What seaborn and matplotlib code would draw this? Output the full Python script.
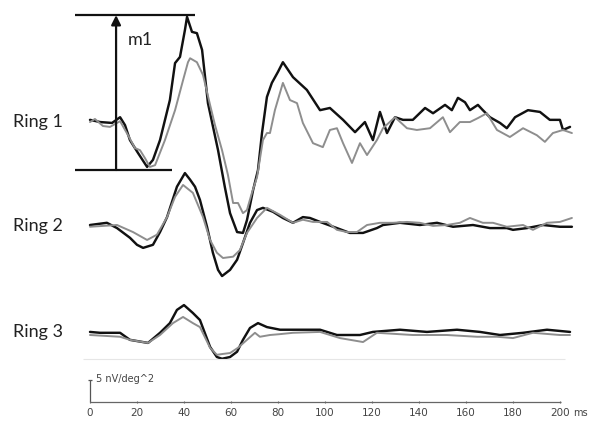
"""
mfERG ring traces (Ring 1-3), black vs gray response, with m1 amplitude marker.
"""
import numpy as np
import pandas as pd
import matplotlib
matplotlib.use("Agg")
import matplotlib.pyplot as plt
import seaborn as sns

BLACK = "#111111"
GRAY  = "#8e8e8e"
TEXT  = "#222222"

# ---- data: time (ms) / amplitude (nV/deg^2) ----
r1_black_t = [0, 4.3, 9.4, 12.8, 14.9, 17, 20.4, 24.3, 26.8, 29.8, 34, 36.2, 38.3, 40.4,
              41.3, 43.4, 45.5, 47.7, 50.2, 54.5, 57.4, 59.6, 62.6, 65.1, 66.8, 69.4,
              71.5, 73.2, 75.3, 77.4, 80, 82.1, 86.4, 92.3, 97.9, 102.1, 107.7, 112.8,
              117, 120.4, 123.4, 126.4, 129.8, 133.2, 137.4, 142.6, 146, 151.1, 154,
              156.6, 159.6, 161.7, 165.1, 167.2, 170.2, 174.5, 177.4, 180.9, 186.4,
              191.5, 195.7, 200, 201.3, 204.3]
r1_black_a = [0.5, 0, -0.2, 1.1, -0.7, -4.1, -7.0, -10.2, -8.6, -4.1, 5.0, 13.4, 14.8, 20.9,
              23.9, 20.5, 20.2, 16.4, 4.3, -6.4, -14.8, -20.7, -25.0, -25.2, -22.3, -15.5,
              -10.9, -2.5, 5.7, 8.9, 11.4, 13.6, 10.2, 7.3, 2.7, 3.2, 0.5, -2.3,
              0, -4.1, 2.3, -2.5, 1.1, 0.5, 0.5, 3.2, 2.0, 3.9, 2.7,
              5.5, 4.5, 2.7, 3.9, 2.7, 1.1, -0.2, -1.4, 1.1, 2.7,
              2.3, 0.5, 0.5, -1.8, -1.1]

r1_gray_t = [0, 2.1, 5.5, 8.5, 12.8, 16.2, 19.1, 21.3, 23.4, 25.5, 27.7, 31.9, 36.2, 39.6,
             41.7, 42.6, 45.5, 48.1, 51.1, 53.2, 56.2, 58.7, 60.9, 63, 65.1, 66.8, 68.9,
             71.1, 73.6, 75.3, 76.6, 78.7, 82.1, 85.1, 88.1, 90.6, 94.9, 99.1, 102.1,
             105.1, 107.7, 111.5, 114.9, 117.9, 122.1, 124.7, 129.8, 134.9, 139.1, 144.7,
             150.2, 153.2, 157.4, 161.7, 165.1, 168.9, 173.2, 178.7, 184.3, 190.2, 193.6,
             197, 201.3, 205.1]
r1_gray_a = [0, 0.7, -0.9, -1.1, 0.2, -3.0, -5.9, -6.4, -8.2, -10.2, -9.8, -4.1, 2.7, 9.5,
             13.6, 14.5, 13.6, 10.7, 3.9, -0.7, -6.4, -12.0, -18.4, -18.4, -20.7, -20.0, -16.1,
             -12.5, -4.1, -2.5, -2.5, 2.7, 8.9, 5.0, 4.3, -0.2, -4.8, -5.7, -1.8,
             -1.4, -4.8, -9.3, -4.8, -7.5, -4.1, -1.4, 1.1, -1.4, -1.8, -1.4,
             1.1, -2.3, 0, 0, 0.9, 2.0, -1.8, -3.4, -1.4, -3.0, -4.5,
             -2.5, -1.8, -2.5]

r2_black_t = [0, 4.3, 7.2, 11.5, 17, 20, 22.6, 26.8, 29.8, 32.8, 37, 40.4, 42.6, 44.7, 46.8,
              49.8, 52.3, 54.5, 56.2, 59.6, 62.6, 65.1, 68.1, 71.1, 73.6, 77.9, 82.1, 86.4,
              90.6, 93.6, 97.9, 105.1, 110.6, 116.2, 122.1, 124.7, 131.9, 140.4, 147.7,
              154.5, 163, 170.2, 177.4, 180, 186, 192.8, 200, 205.1]
r2_black_a = [0.2, 0.5, 0.7, -0.5, -2.7, -4.3, -5.0, -4.3, -1.4, 2.0, 8.9, 12.0, 10.5, 8.9, 5.9,
              -0.2, -6.1, -10.0, -11.4, -10.0, -7.7, -3.9, 0.7, 3.6, 4.1, 3.2, 1.8, 0.7,
              2.0, 1.8, 0.9, -0.5, -1.6, -1.6, -0.5, 0.2, 0.7, 0.2, 0.7,
              -0.2, 0.2, -0.5, -0.5, -0.9, -0.5, 0.2, -0.2, -0.2]

r2_gray_t = [0, 11.5, 18.3, 24.3, 28.5, 32.8, 36.2, 39.6, 43.8, 48.1, 51.1, 54, 56.6, 60.9,
             63.8, 66.8, 71.1, 75.3, 80.9, 86.4, 90.6, 94.9, 100.9, 105.1, 109.4, 113.6,
             117.9, 123.4, 128.9, 134.9, 140.4, 146, 151.9, 157.4, 161.7, 167.2, 171.5,
             177.4, 184.3, 188.5, 194.5, 200, 205.1]
r2_gray_a = [-0.2, 0.2, -1.4, -3.2, -2.0, 2.0, 6.6, 9.3, 7.5, 2.0, -3.2, -6.1, -7.3, -7.0,
             -5.5, -1.6, 1.8, 4.1, 2.5, 0.7, 1.4, 0.9, 0.9, -0.9, -1.4, -1.4,
             0.2, 0.7, 0.7, 0.9, 0.7, 0, 0.2, 0.7, 1.8, 0.7, 0.7,
             -0.2, 0.2, -0.9, 0.7, 0.9, 1.8]

r3_black_t = [0, 4.3, 12.8, 17, 24.7, 29.8, 34, 37, 40, 43.8, 46.8, 51.1, 54, 56.2, 59.6,
              62.6, 65.1, 68.1, 71.5, 75.3, 80.9, 86.4, 97.9, 105.1, 114.9, 120.4, 131.9,
              143.4, 156.2, 166, 174.5, 184.3, 194.5, 204.3]
r3_black_a = [0, -0.2, -0.2, -1.8, -2.5, -0.2, 2.0, 5.0, 6.1, 4.3, 2.7, -3.4, -5.7, -6.1, -5.7,
              -4.5, -1.8, 0.9, 2.0, 1.1, 0.5, 0.5, 0.5, -0.7, -0.7, 0, 0.5,
              0, 0.5, 0, -0.7, -0.2, 0.5, 0]

r3_gray_t = [0, 12.8, 17, 24.7, 29.8, 35.3, 39.6, 43.8, 46.8, 51.1, 54, 56.6, 59.6, 63, 66.8,
             70.2, 72.3, 76.6, 80.9, 86.4, 97.9, 106.4, 116.2, 122.1, 137.4, 151.9, 164.7,
             173.2, 180, 188.5, 200, 204.3]
r3_gray_a = [-0.7, -1.1, -1.8, -2.5, -0.7, 2.0, 3.4, 2.0, 1.1, -3.6, -5.2, -5.0, -4.8, -3.6, -1.8,
             -0.2, -1.1, -0.7, -0.5, -0.2, 0, -1.4, -2.3, -0.2, -0.7, -0.7, -1.1,
             -1.1, -1.4, -0.2, -0.7, -0.7]

ring_labels  = ["Ring 1", "Ring 2", "Ring 3"]
ring_offsets = [68.4, 44.8, 20.7]          # vertical stacking of the traces
time_ticks   = [0, 20, 40, 60, 80, 100, 120, 140, 160, 180, 200]
scale_value  = 5                           # nV/deg^2 calibration bar
m1_top, m1_bottom = 24.3, -10.9           # m1 marker levels on Ring 1

traces = [
    (r1_black_t, r1_black_a, r1_gray_t, r1_gray_a),
    (r2_black_t, r2_black_a, r2_gray_t, r2_gray_a),
    (r3_black_t, r3_black_a, r3_gray_t, r3_gray_a),
]

sns.set_theme(style="white")
plt.rcParams["font.family"] = ["DejaVu Sans"]

fig = plt.figure(figsize=(5.94, 4.23), dpi=100, facecolor="white")
ax = fig.add_axes([0, 0, 1, 1])
ax.set_facecolor("white")

AX_Y = 4.77  # position of the time axis

for (bt, ba, gt, ga), off in zip(traces, ring_offsets):
    dfb = pd.DataFrame({"t": bt, "a": np.array(ba) + off})
    dfg = pd.DataFrame({"t": gt, "a": np.array(ga) + off})
    sns.lineplot(data=dfb, x="t", y="a", ax=ax, color=BLACK, lw=1.75,
                 estimator=None, sort=False, solid_joinstyle="round",
                 solid_capstyle="round")
    sns.lineplot(data=dfg, x="t", y="a", ax=ax, color=GRAY, lw=1.4,
                 estimator=None, sort=False, solid_joinstyle="round",
                 solid_capstyle="round")

for lab, off in zip(ring_labels, ring_offsets):
    ax.text(-32.9, off, lab, ha="left", va="center", fontsize=13,
            color=TEXT, family=["Lato", "DejaVu Sans"])

# m1 marker on Ring 1
o1 = ring_offsets[0]
ax.hlines(o1 + m1_top, -6.4, 44.7, color=BLACK, lw=1.6)
ax.hlines(o1 + m1_bottom, -6.4, 34.9, color=BLACK, lw=1.6)
ax.annotate("", xy=(11.1, o1 + m1_top), xytext=(11.1, o1 + m1_bottom),
            arrowprops=dict(arrowstyle="-|>", color=BLACK, lw=1.6,
                            mutation_scale=14, shrinkA=0, shrinkB=0))
ax.text(16.0, o1 + 18.6, "m1", ha="left", va="center", fontsize=13,
        color=TEXT, family=["Lato", "DejaVu Sans"])

# light separator below Ring 3
ax.hlines(14.55, -3.0, 202, color="#e6e6e6", lw=0.8)

# calibration bar
ax.vlines(0, AX_Y, AX_Y + scale_value, color="#555555", lw=0.9)
ax.hlines(AX_Y + scale_value, -0.7, 0.7, color="#555555", lw=0.9)
ax.text(2.6, AX_Y + scale_value + 0.3, f"{scale_value} nV/deg^2", ha="left",
        va="center", fontsize=7, color="#444444")

# time axis
ax.hlines(AX_Y, 0, 200.5, color="#666666", lw=0.9)
ax.vlines(time_ticks, AX_Y - 0.3, AX_Y + 0.3, color="#666666", lw=0.8)
for t in time_ticks:
    ax.text(t, AX_Y - 2.5, str(t), ha="center", va="center", fontsize=7.5,
            color="#444444")
ax.text(205.5, AX_Y - 2.5, "ms", ha="left", va="center", fontsize=7,
        color="#444444")

ax.set_xlim(-38.3, 214.5)
ax.set_ylim(0, 96.14)
ax.set_xlabel("")
ax.set_ylabel("")
ax.axis("off")

plt.savefig("out.png", dpi=100, facecolor="white")
plt.close()
